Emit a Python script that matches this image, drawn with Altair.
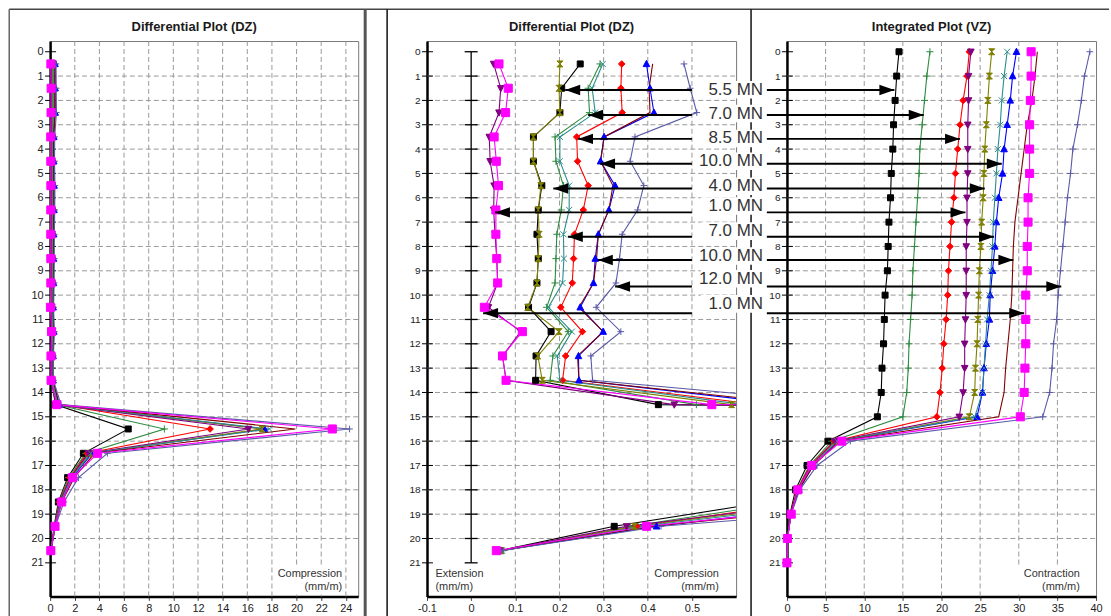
import altair as alt
import pandas as pd

FONT = "Liberation Sans"

# ---------------- load stages ----------------
stage_ids = ["s1", "s2", "s3", "s4", "s5", "s6", "s7", "s8", "s9", "s10"]
stage_labels = ["5.5 MN", "7.0 MN", "8.5 MN", "10.0 MN", "4.0 MN",
                "1.0 MN", "7.0 MN", "10.0 MN", "12.0 MN", "1.0 MN"]
stage_colors = ["#000000", "#2e8b3e", "#ff0000", "#0000ff", "#808000",
                "#800080", "#2b8c8c", "#800000", "#5a5aa8", "#ff00ff"]
stage_shapes = [
    "M-1,-1L1,-1L1,1L-1,1Z",                      # square
    "M-1.2,0L1.2,0M0,-1.2L0,1.2",                 # plus
    "M0,-1.1L1.1,0L0,1.1L-1.1,0Z",                # diamond
    "M0,-1.2L1.1,0.9L-1.1,0.9Z",                  # triangle up
    "M-1,-1L1,-1L-1,1L1,1Z",                      # hourglass
    "M-1.1,-0.9L1.1,-0.9L0,1.2Z",                 # triangle down
    "M-1,-1L1,1M-1,1L1,-1",                       # x
    "M0,0",                                       # no marker
    "M-1.1,0L1.1,0M0,-1.1L0,1.1",                 # plus
    "M-1.35,-1.35L1.35,-1.35L1.35,1.35L-1.35,1.35Z",  # big square
]

# ---------------- differential DZ (mm/m) at mid depths ----------------
dz_depths = [0.5, 1.5, 2.5, 3.5, 4.5, 5.5, 6.5, 7.5, 8.5, 9.5, 10.5,
             11.5, 12.5, 13.5, 14.5, 15.5, 16.5, 17.5, 18.5, 19.5, 20.5]
dz_s1 = [0.247, 0.205, 0.201, 0.141, 0.141, 0.160, 0.152, 0.149, 0.152, 0.149, 0.130,
         0.181, 0.147, 0.146, 0.424, 6.34, 2.70, 1.42, 0.67, 0.324, 0.065]
dz_s2 = [0.292, 0.265, 0.268, 0.190, 0.192, 0.209, 0.204, 0.194, 0.192, 0.190, 0.171,
         0.220, 0.185, 0.179, 0.510, 9.27, 2.90, 1.50, 0.72, 0.360, 0.072]
dz_s3 = [0.341, 0.339, 0.342, 0.239, 0.241, 0.265, 0.254, 0.234, 0.232, 0.229, 0.203,
         0.252, 0.214, 0.207, 0.650, 12.98, 3.00, 1.60, 0.76, 0.375, 0.066]
dz_s4 = [0.397, 0.405, 0.414, 0.301, 0.293, 0.326, 0.312, 0.288, 0.281, 0.277, 0.247,
         0.299, 0.243, 0.244, 0.720, 17.4, 3.40, 1.80, 0.88, 0.420, 0.064]
dz_s5 = [0.201, 0.199, 0.201, 0.141, 0.141, 0.158, 0.152, 0.154, 0.152, 0.149, 0.128,
         0.199, 0.151, 0.161, 0.590, 17.2, 3.20, 1.70, 0.82, 0.370, 0.068]
dz_s6 = [0.051, 0.067, 0.063, 0.041, 0.043, 0.052, 0.051, 0.054, 0.058, 0.060, 0.039,
         0.112, 0.071, 0.079, 0.460, 16.1, 3.10, 1.65, 0.80, 0.352, 0.065]
dz_s7 = [0.298, 0.274, 0.281, 0.201, 0.201, 0.222, 0.222, 0.209, 0.210, 0.207, 0.175,
         0.228, 0.195, 0.201, 0.620, 17.8, 3.30, 1.75, 0.85, 0.385, 0.070]
dz_s8 = [0.411, 0.403, 0.405, 0.301, 0.293, 0.321, 0.312, 0.288, 0.284, 0.277, 0.244,
         0.299, 0.241, 0.244, 0.750, 19.9, 3.60, 1.95, 0.95, 0.410, 0.066]
dz_s9 = [0.482, 0.496, 0.511, 0.371, 0.360, 0.391, 0.377, 0.342, 0.336, 0.328, 0.283,
         0.339, 0.271, 0.275, 0.880, 24.3, 4.65, 2.30, 1.12, 0.430, 0.070]
dz_s10 = [0.063, 0.084, 0.078, 0.052, 0.057, 0.062, 0.056, 0.056, 0.058, 0.060, 0.030,
          0.116, 0.071, 0.079, 0.545, 22.9, 3.85, 1.83, 0.94, 0.397, 0.057]

# ---------------- integrated VZ (mm/m) at gauge depths ----------------
vz_depths = [0, 1, 2, 3, 4, 5, 6, 7, 8, 9, 10, 11, 12, 13, 14, 15, 16, 17, 18, 19, 20, 21]
vz_s1 = [14.5, 14.2, 14.0, 13.8, 13.7, 13.5, 13.4, 13.2, 13.1, 13.0, 12.7,
         12.6, 12.5, 12.3, 12.2, 11.7, 5.3, 2.6, 1.1, 0.40, 0.07, 0]
vz_s2 = [18.5, 18.1, 17.8, 17.5, 17.2, 17.1, 16.9, 16.7, 16.5, 16.3, 16.2,
         16.0, 15.8, 15.7, 15.5, 15.0, 5.8, 2.9, 1.3, 0.45, 0.07, 0]
vz_s3 = [23.6, 23.3, 22.8, 22.4, 22.1, 21.8, 21.6, 21.3, 21.1, 20.9, 20.8,
         20.6, 20.3, 20.1, 19.8, 19.4, 6.1, 3.0, 1.35, 0.45, 0.07, 0]
vz_s4 = [29.7, 29.2, 28.9, 28.5, 28.1, 27.9, 27.4, 27.1, 26.9, 26.6, 26.3,
         26.2, 25.8, 25.5, 25.3, 24.6, 6.6, 3.4, 1.55, 0.50, 0.07, 0]
vz_s5 = [26.5, 26.2, 26.0, 25.8, 25.6, 25.5, 25.4, 25.2, 25.1, 24.9, 24.8,
         24.7, 24.6, 24.4, 24.3, 23.6, 6.4, 3.2, 1.45, 0.50, 0.07, 0]
vz_s6 = [23.8, 23.5, 23.5, 23.4, 23.4, 23.4, 23.3, 23.3, 23.2, 23.2, 23.2,
         23.1, 23.0, 23.0, 22.8, 22.3, 6.2, 3.1, 1.4, 0.45, 0.07, 0]
vz_s7 = [28.5, 28.1, 27.8, 27.6, 27.3, 27.1, 26.9, 26.7, 26.6, 26.4, 26.2,
         25.9, 25.7, 25.5, 25.3, 24.3, 6.5, 3.3, 1.5, 0.50, 0.07, 0]
vz_s8 = [32.4, 32.1, 31.7, 31.1, 30.7, 30.3, 29.9, 29.5, 29.3, 29.2, 29.1,
         28.9, 28.6, 28.3, 28.1, 27.4, 6.8, 3.4, 1.55, 0.50, 0.07, 0]
vz_s9 = [39.2, 38.5, 38.1, 37.6, 37.0, 36.7, 36.3, 36.0, 35.7, 35.4, 35.1,
         34.9, 34.5, 34.3, 34.0, 33.1, 8.2, 3.9, 1.65, 0.55, 0.07, 0]
vz_s10 = [31.6, 31.6, 31.5, 31.4, 31.4, 31.4, 31.2, 31.2, 31.1, 31.1, 30.9,
          30.9, 30.9, 30.8, 30.7, 30.2, 7.1, 3.2, 1.4, 0.55, 0.06, 0]

# ---------------- callouts ----------------
callout_labels = ["5.5 MN", "7.0 MN", "8.5 MN", "10.0 MN", "4.0 MN",
                  "1.0 MN", "7.0 MN", "10.0 MN", "12.0 MN", "1.0 MN"]
callout_label_depth = [1.56, 2.54, 3.56, 4.50, 5.53, 6.34, 7.37, 8.39, 9.33, 10.36]
callout_arrow_depth = [1.57, 2.60, 3.58, 4.60, 5.62, 6.60, 7.60, 8.56, 9.65, 10.74]
callout_mid_tip = [0.213, 0.265, 0.242, 0.292, 0.186, 0.054, 0.219, 0.287, 0.326, 0.027]
callout_mid_tail = 0.5
callout_label_x = 0.661
callout_right_tip = [13.9, 17.7, 22.4, 27.8, 25.6, 23.1, 26.8, 29.3, 35.5, 30.7]
callout_right_tail = -2.6

# ---------------- axes ----------------
y_ticks = list(range(0, 22))
y_grid = list(range(1, 21))
y_domain = [-0.44, 22.38]
left_ticks = [0, 2, 4, 6, 8, 10, 12, 14, 16, 18, 20, 22, 24]
left_grid = [2, 4, 6, 8, 10, 12, 14, 16, 18, 20, 22, 24]
mid_ticks = [-0.1, 0, 0.1, 0.2, 0.3, 0.4, 0.5]
mid_grid = [0.1, 0.2, 0.3, 0.4, 0.5]
right_ticks = [0, 5, 10, 15, 20, 25, 30, 35, 40]
right_grid = [5, 10, 15, 20, 25, 30, 35]

dz_series = [dz_s1, dz_s2, dz_s3, dz_s4, dz_s5, dz_s6, dz_s7, dz_s8, dz_s9, dz_s10]
vz_series = [vz_s1, vz_s2, vz_s3, vz_s4, vz_s5, vz_s6, vz_s7, vz_s8, vz_s9, vz_s10]

dz_df = pd.DataFrame([
    {"stage": sid, "order": i, "depth": d, "value": v}
    for i, (sid, vals) in enumerate(zip(stage_ids, dz_series))
    for d, v in zip(dz_depths, vals)
])
vz_df = pd.DataFrame([
    {"stage": sid, "order": i, "depth": d, "value": v}
    for i, (sid, vals) in enumerate(zip(stage_ids, vz_series))
    for d, v in zip(vz_depths, vals)
])

n_call = len(callout_labels)
call_df = pd.DataFrame({
    "label": callout_labels,
    "ld": callout_label_depth,
    "ad": callout_arrow_depth,
    "mtip": callout_mid_tip,
    "mtail": [callout_mid_tail] * n_call,
    "lx": [callout_label_x] * n_call,
    "bx1": [0.52] * n_call,
    "bx2": [0.672] * n_call,
    "by1": [d - 0.36 for d in callout_label_depth],
    "by2": [d + 0.36 for d in callout_label_depth],
    "rtip": callout_right_tip,
    "rtail": [callout_right_tail] * n_call,
})

H = 557
GRID = dict(strokeDash=[5, 3], color="#9a9a9a", strokeWidth=1)
one = pd.DataFrame({"a": [0]})


def make_panel(title, data, xdom, xticks, xgrid, width, ylab_size, clip, extra, top_extra):
    xscale = alt.Scale(domain=xdom, nice=False, zero=False)
    yscale = alt.Scale(domain=y_domain, reverse=True, nice=False, zero=False)
    xaxis = alt.Axis(values=xticks, orient="bottom", title=None, grid=False,
                     labelFont=FONT, labelFontSize=11, labelColor="#222",
                     labelFlush=False, labelPadding=2, domainColor="black",
                     domainWidth=2.5, tickColor="#444", tickSize=4, labelOverlap=False,
                     labelExpr="datum.value < 0 ? '-' + format(-datum.value, '.1f') : "
                               "(datum.value == 0 ? '0' : (datum.value < 1 ? format(datum.value, '.1f') : format(datum.value, 'd')))")
    yaxis = alt.Axis(values=y_ticks, orient="left", title=None, grid=False,
                     labelFont=FONT, labelFontSize=ylab_size, labelColor="#222",
                     ticks=False, labelPadding=7, domainColor="black",
                     domainWidth=2.5, labelOverlap=False)

    def X(f):
        return alt.X(f, type="quantitative", scale=xscale, axis=xaxis)

    def Y(f):
        return alt.Y(f, type="quantitative", scale=yscale, axis=yaxis)

    color_scale = alt.Scale(domain=stage_ids, range=stage_colors)

    vgrid = alt.Chart(pd.DataFrame({"g": xgrid})).mark_rule(**GRID).encode(
        x=X("g"), y=alt.value(0), y2=alt.value(H))
    hgrid = alt.Chart(pd.DataFrame({"d": y_grid})).mark_rule(**GRID).encode(
        y=Y("d"), x=alt.value(0), x2=alt.value(width))
    yticks = alt.Chart(pd.DataFrame({"d": y_ticks, "x0": xdom[0]})).mark_rule(
        color="black", strokeWidth=1, xOffset=-5, x2Offset=6).encode(
        x=X("x0"), x2="x0:Q", y=Y("d"))
    ttl = alt.Chart(pd.DataFrame({"t": [title]})).mark_text(
        font=FONT, fontSize=13, fontWeight="bold", color="#1a1a1a",
        align="center", baseline="middle").encode(
        x=alt.value(width / 2 - 10), y=alt.value(-14), text="t:N")

    lines = alt.Chart(data).mark_line(strokeWidth=1.1, clip=clip).encode(
        x=X("value"), y=Y("depth"),
        color=alt.Color("stage:N", scale=color_scale, legend=None),
        order="depth:Q")
    pts = alt.Chart(data).mark_point(filled=True, opacity=1, size=36,
                                     strokeWidth=1, clip=clip).encode(
        x=X("value"), y=Y("depth"),
        fill=alt.Fill("stage:N", scale=color_scale, legend=None),
        stroke=alt.Stroke("stage:N", scale=color_scale, legend=None),
        shape=alt.Shape("stage:N", scale=alt.Scale(domain=stage_ids, range=stage_shapes),
                        legend=None))

    layers = [vgrid, hgrid, yticks, ttl] + extra(X, Y) + [lines, pts] + top_extra(X, Y)
    return alt.layer(*layers).properties(width=width, height=H)


def unit_note(X, Y, x1, x2, xtext, align, lines_txt):
    bg = alt.Chart(pd.DataFrame({"x1": [x1], "x2": [x2], "y1": [21.1], "y2": [22.3]})).mark_rect(
        fill="white").encode(x=X("x1"), x2="x2:Q", y=Y("y1"), y2="y2:Q")
    txt = alt.Chart(pd.DataFrame({"x": [xtext, xtext], "y": [21.47, 22.0], "t": lines_txt})).mark_text(
        font=FONT, fontSize=11, color="#333", align=align, baseline="middle").encode(
        x=X("x"), y=Y("y"), text="t:N")
    return [bg, txt]


def nothing(X, Y):
    return []


def left_extra(X, Y):
    frame = [
        alt.Chart(one).mark_rule(color="#444", strokeWidth=1.5).encode(
            x=alt.value(-41), x2=alt.value(1062), y=alt.value(-32)),
        alt.Chart(one).mark_rule(color="#666", strokeWidth=1.5).encode(
            x=alt.value(-41), y=alt.value(-32), y2=alt.value(581)),
        alt.Chart(one).mark_rule(color="#555", strokeWidth=3).encode(
            x=alt.value(316), y=alt.value(-32), y2=alt.value(581)),
        alt.Chart(one).mark_rule(color="#111", strokeWidth=1.5).encode(
            x=alt.value(338), y=alt.value(-32), y2=alt.value(581)),
        alt.Chart(one).mark_rule(color="#111", strokeWidth=1.5).encode(
            x=alt.value(703), y=alt.value(-32), y2=alt.value(581)),
    ]
    return frame + unit_note(X, Y, 18.2, 23.9, 23.7, "right", ["Compression", "(mm/m)"])


def mid_extra(X, Y):
    zero = alt.Chart(pd.DataFrame({"x": [0], "y1": [0], "y2": [21]})).mark_rule(
        color="black", strokeWidth=1.3).encode(x=X("x"), y=Y("y1"), y2="y2:Q")
    zticks = alt.Chart(pd.DataFrame({"d": y_ticks, "x0": 0})).mark_rule(
        color="black", strokeWidth=1.3, xOffset=-6.5, x2Offset=6.5).encode(
        x=X("x0"), x2="x0:Q", y=Y("d"))
    return [zero, zticks] + \
        unit_note(X, Y, -0.088, 0.036, -0.081, "left", ["Extension", "(mm/m)"]) + \
        unit_note(X, Y, 0.41, 0.57, 0.561, "right", ["Compression", "(mm/m)"])


def mid_calls(X, Y):
    return [
        alt.Chart(call_df).mark_rect(fill="white").encode(
            x=X("bx1"), x2="bx2:Q", y=Y("by1"), y2="by2:Q"),
        alt.Chart(call_df).mark_text(font=FONT, fontSize=17, color="#333",
                                     align="right", baseline="middle").encode(
            x=X("lx"), y=Y("ld"), text="label:N"),
        alt.Chart(call_df).mark_rule(color="black", strokeWidth=2).encode(
            x=X("mtail"), x2="mtip:Q", y=Y("ad")),
        alt.Chart(call_df).mark_point(shape="M0,0L2,-0.7L2,0.7Z", size=225, filled=True,
                                      color="black", opacity=1).encode(
            x=X("mtip"), y=Y("ad")),
    ]


def right_extra(X, Y):
    return unit_note(X, Y, 29.6, 38.4, 37.9, "right", ["Contraction", "(mm/m)"])


def right_calls(X, Y):
    return [
        alt.Chart(call_df).mark_rule(color="black", strokeWidth=2).encode(
            x=X("rtail"), x2="rtip:Q", y=Y("ad")),
        alt.Chart(call_df).mark_point(shape="M0,0L-2,-0.7L-2,0.7Z", size=225, filled=True,
                                      color="black", opacity=1).encode(
            x=X("rtip"), y=Y("ad")),
    ]


left = make_panel("Differential Plot (DZ)", dz_df, [0, 25], left_ticks, left_grid,
                  309, 11, False, left_extra, nothing)
mid = make_panel("Differential Plot (DZ)", dz_df, [-0.1, 0.6], mid_ticks, mid_grid,
                 310, 10, True, mid_extra, mid_calls)
right = make_panel("Integrated Plot (VZ)", vz_df, [0, 40], right_ticks, right_grid,
                   310, 10, False, right_extra, right_calls)

chart = alt.hconcat(
    left,
    alt.hconcat(mid, right, spacing=51, bounds="flush"),
    spacing=69, bounds="flush",
).properties(
    padding={"left": 7.25, "top": 6.25, "right": 0, "bottom": 0},
    background="white",
).configure_view(stroke="#777", strokeWidth=1, fill=None)

chart.save("out.html", embed_options={"renderer": "svg", "actions": False})
